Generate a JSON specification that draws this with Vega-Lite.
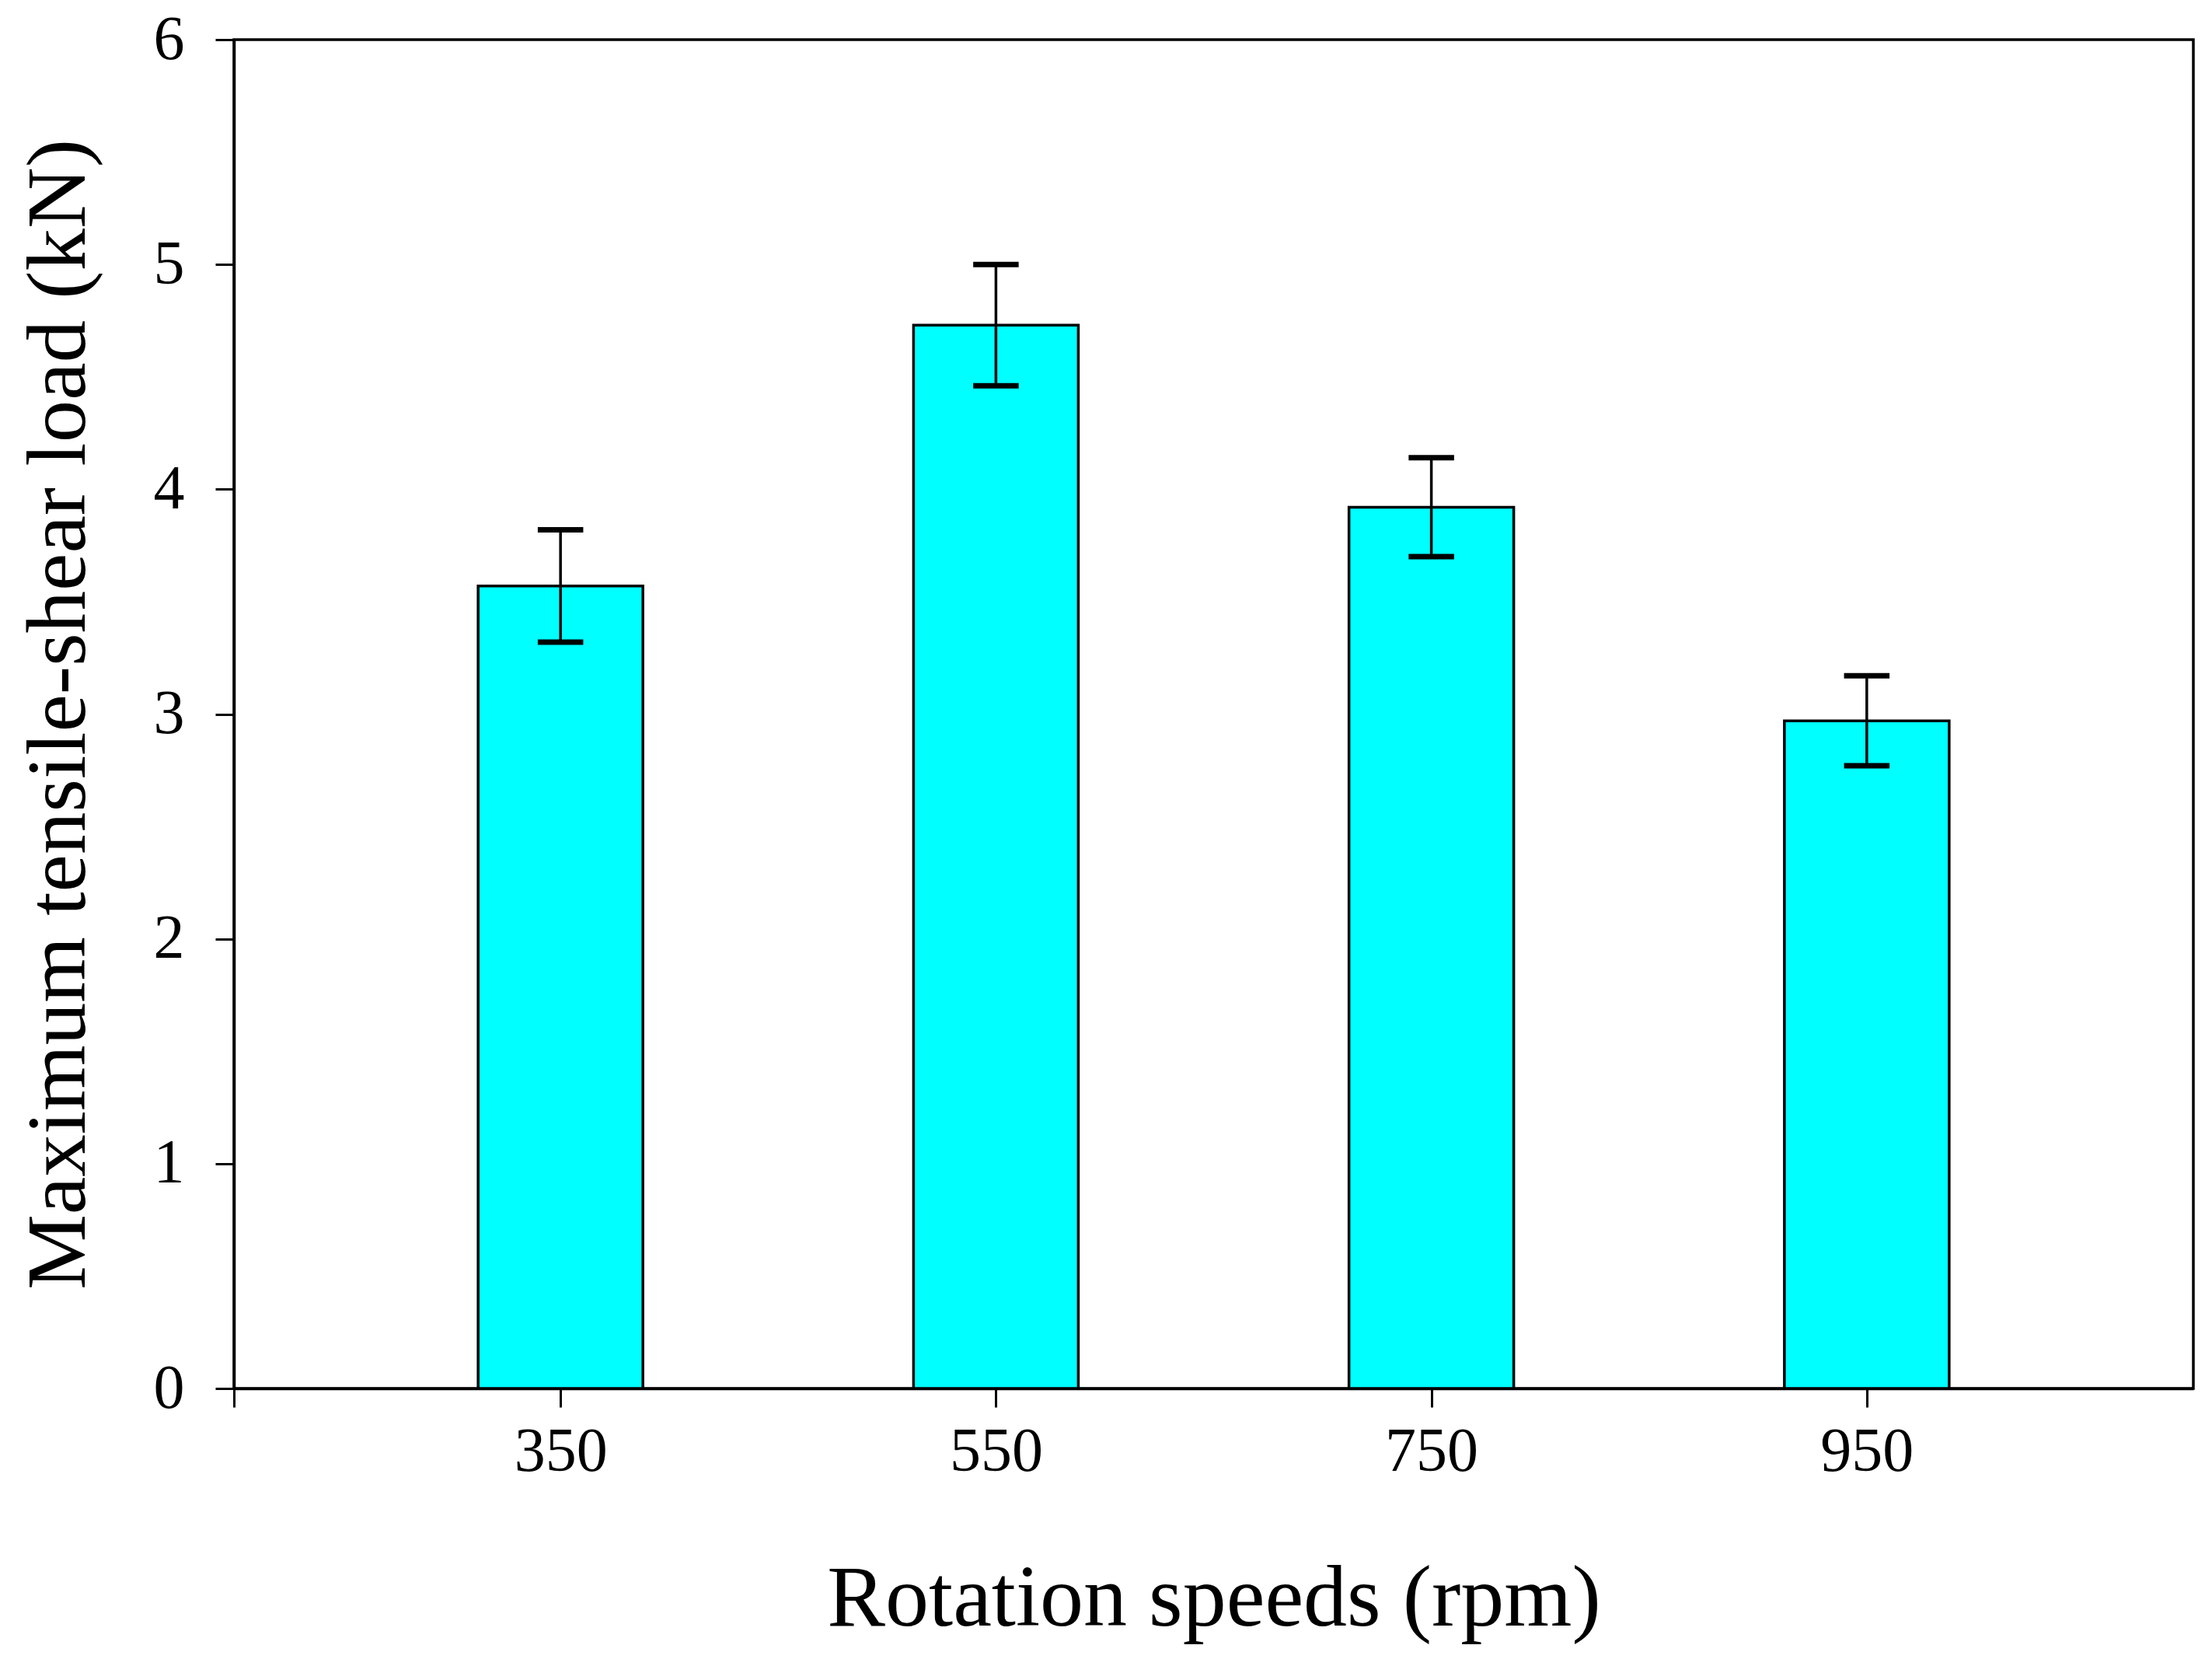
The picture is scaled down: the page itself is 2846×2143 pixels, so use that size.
{
  "$schema": "https://vega.github.io/schema/vega-lite/v6.json",
  "autosize": "none",
  "width": 2521,
  "height": 1735,
  "padding": {"left": 301, "top": 51, "right": 24, "bottom": 357},
  "background": "white",
  "data": {
    "values": [
      {"speed": 350, "load": 3.57, "lo": 3.32, "hi": 3.82},
      {"speed": 550, "load": 4.73, "lo": 4.46, "hi": 5.0},
      {"speed": 750, "load": 3.92, "lo": 3.7, "hi": 4.14},
      {"speed": 950, "load": 2.97, "lo": 2.77, "hi": 3.17}
    ]
  },
  "layer": [
    {
      "mark": {"type": "bar", "width": 212, "fill": "#00FFFF", "stroke": "black", "strokeWidth": 3.5},
      "encoding": {
        "x": {
          "field": "speed",
          "type": "quantitative",
          "scale": {"domain": [200, 1100], "nice": false, "zero": false, "padding": 0},
          "axis": {
            "title": "Rotation speeds (rpm)",
            "values": [200, 350, 550, 750, 950],
            "labelExpr": "datum.value == 200 ? '' : datum.label"
          }
        },
        "y": {
          "field": "load",
          "type": "quantitative",
          "scale": {"domain": [0, 6], "nice": false},
          "axis": {
            "title": "Maximum tensile-shear load (kN)",
            "values": [0, 1, 2, 3, 4, 5, 6],
            "format": "d"
          }
        }
      }
    },
    {
      "mark": {
        "type": "errorbar",
        "thickness": 3.5,
        "color": "black",
        "opacity": 1,
        "rule": {"stroke": "black", "strokeWidth": 3.5, "opacity": 1},
        "ticks": {"stroke": "black", "strokeWidth": 3.5, "size": 55, "opacity": 1}
      },
      "encoding": {
        "x": {"field": "speed", "type": "quantitative"},
        "y": {"field": "lo", "type": "quantitative", "title": "Maximum tensile-shear load (kN)"},
        "y2": {"field": "hi"}
      }
    }
  ],
  "config": {
    "font": "Liberation Serif",
    "view": {"stroke": "black", "strokeWidth": 3.5},
    "axis": {
      "grid": false,
      "domainColor": "black",
      "domainWidth": 3.5,
      "tickColor": "black",
      "tickWidth": 3,
      "tickSize": 24,
      "labelFont": "Liberation Serif",
      "labelFontSize": 80,
      "labelColor": "black",
      "titleFont": "Liberation Serif",
      "titleFontSize": 112,
      "titleFontWeight": "normal",
      "titleColor": "black"
    },
    "axisX": {"labelPadding": 18, "titlePadding": 95},
    "axisY": {"labelPadding": 40, "titlePadding": 66, "titleFontSize": 109}
  }
}
